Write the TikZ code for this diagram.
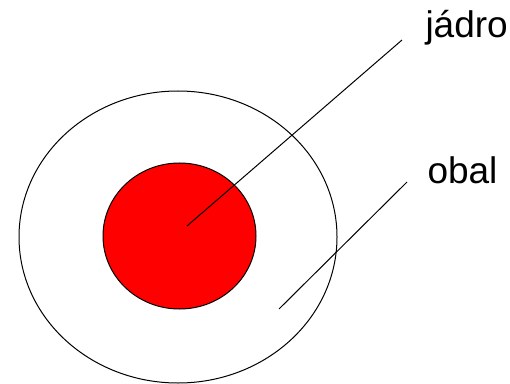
\documentclass[tikz,border=0pt]{standalone}
\usepackage{fontspec}
\setmainfont{Liberation Sans}
\begin{document}
\begin{tikzpicture}[x=1pt, y=1pt, line width=1pt]
            \useasboundingbox (0,0) rectangle (510,383);

            % Define centres
            \coordinate (O) at (178,146);        % obal
            \coordinate (J) at (179.5,147);      % jadro

            % Define line ends
            \coordinate (JS) at (187,157);
            \coordinate (JE) at (402,343);
            \coordinate (OS) at (279,74);
            \coordinate (OE) at (407,201);

            % Draw shells
            \draw (O) ellipse [x radius=159, y radius=146];
            \draw[fill=red] (J) ellipse [x radius=76.5, y radius=73];

            % Draw labels
            \node[anchor=base west, inner sep=0pt, font=\fontsize{37}{40}\selectfont] (jadro) at (425,345) {jádro};
            \node[anchor=base west, inner sep=0pt, font=\fontsize{37}{40}\selectfont] (obal) at (427,200) {obal};

            % Draw pointers
            \draw (JS) -- (JE);
            \draw (OS) -- (OE);
        \end{tikzpicture}
\end{document}
